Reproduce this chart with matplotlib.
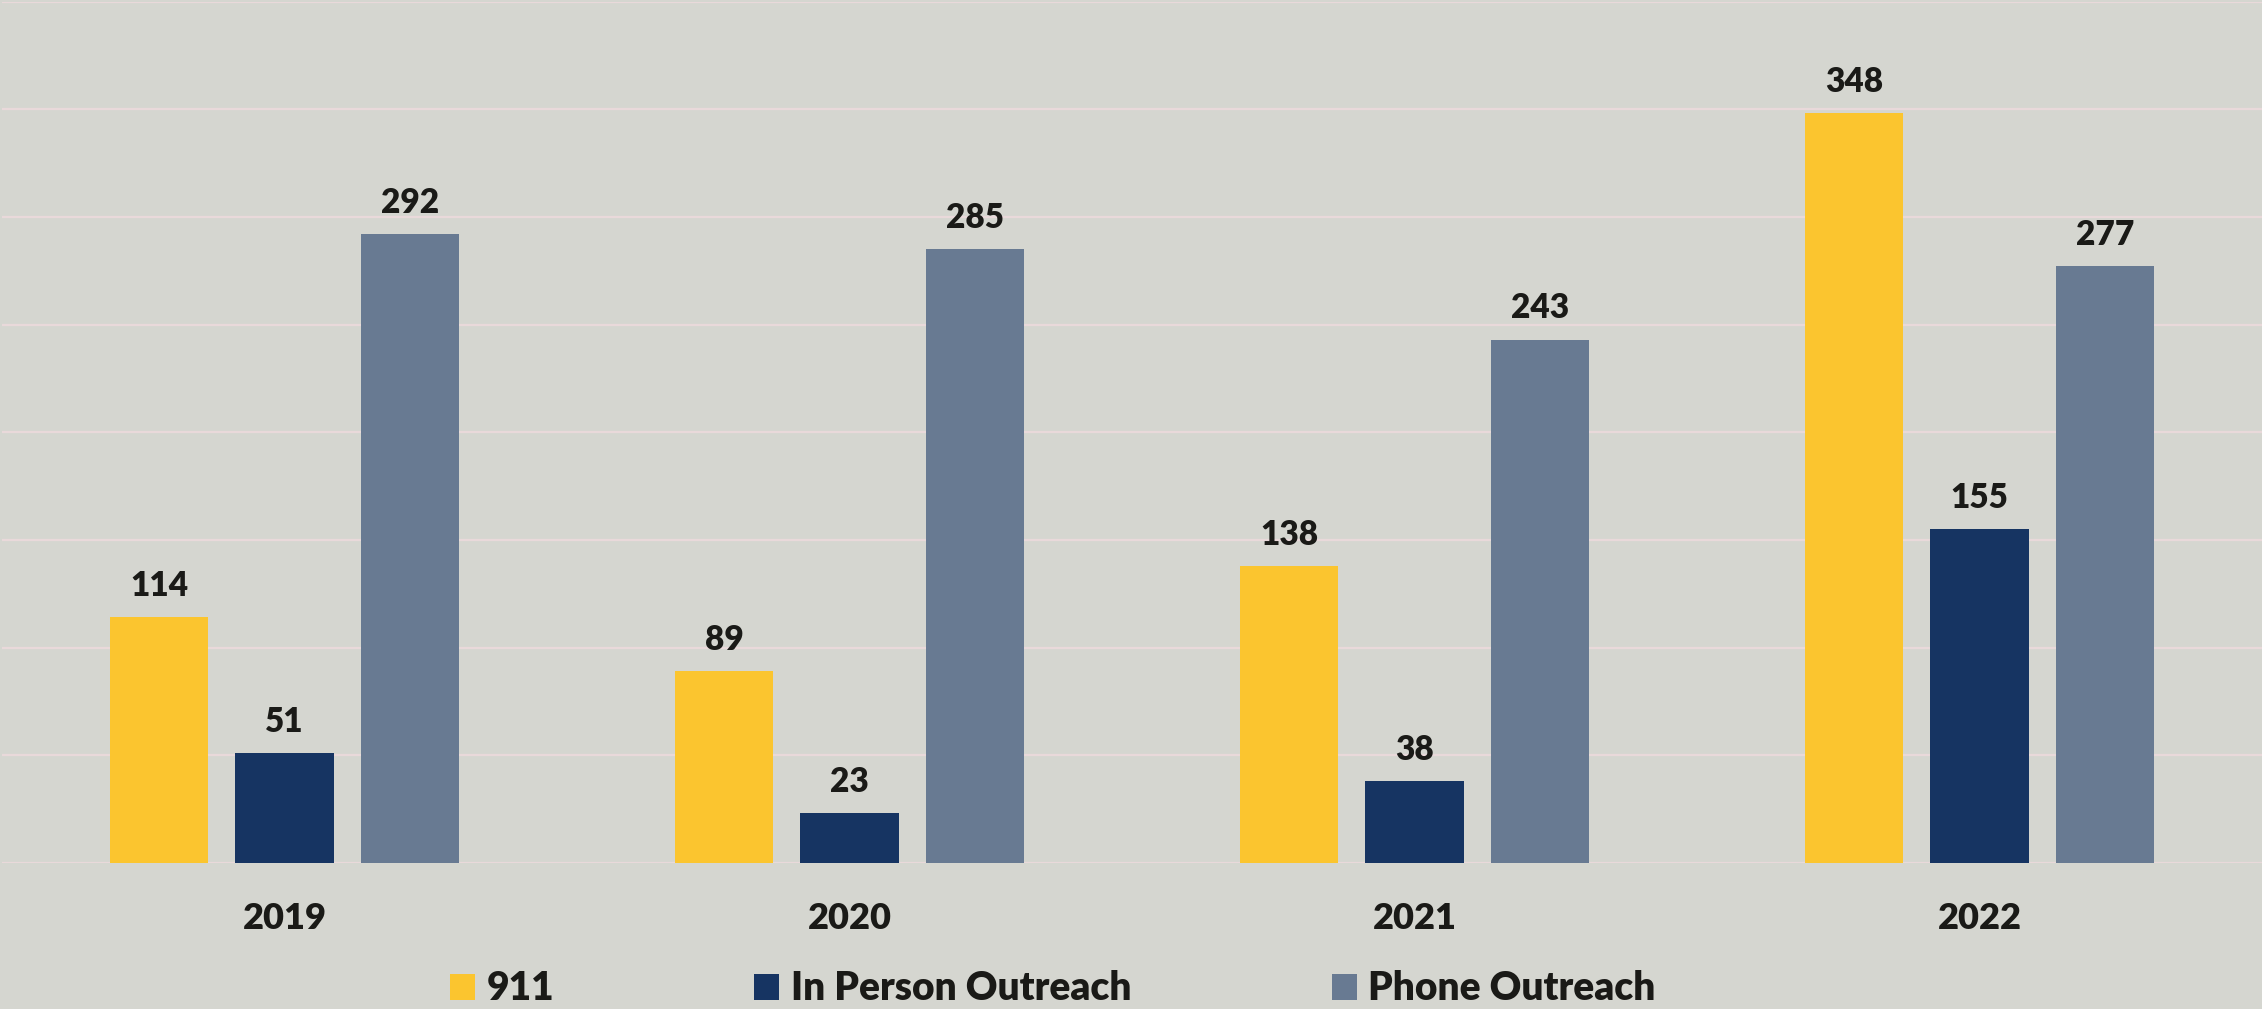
import matplotlib
matplotlib.use("Agg")
import matplotlib.pyplot as plt
import numpy as np

# ---- data ----
years = ["2019", "2020", "2021", "2022"]
series_names = ["911", "In Person Outreach", "Phone Outreach"]
calls_911 = [114, 89, 138, 348]
in_person = [51, 23, 38, 155]
phone = [292, 285, 243, 277]

colors = ["#FBC52F", "#163462", "#687A92"]
bg = "#D5D6D0"
grid_col = "#E9D9DA"
text_col = "#1A1A17"
weight = "heavy"

plt.rcParams["font.family"] = ["Lato", "DejaVu Sans"]

W, H = 2262, 1009
fig = plt.figure(figsize=(W / 100, H / 100), dpi=100, facecolor=bg)
ax_bottom = 1 - 863 / H
ax_top = 1 - 1.5 / H
ax = fig.add_axes([2 / W, ax_bottom, 1 - 2 / W, ax_top - ax_bottom])
ax.set_facecolor(bg)

x = np.arange(len(years))
width = 0.174
pitch = 0.222
all_series = [calls_911, in_person, phone]
for i, (vals, name, c) in enumerate(zip(all_series, series_names, colors)):
    bars = ax.bar(x + (i - 1) * pitch, vals, width, color=c, label=name,
                  zorder=3, linewidth=0)
    ax.bar_label(bars, labels=[str(v) for v in vals], padding=11,
                 fontsize=24, fontweight=weight, color=text_col)

ax.set_xlim(-0.5, len(years) - 0.5)
ax.set_ylim(0, 400)
ax.set_yticks(np.arange(0, 401, 50))
ax.yaxis.grid(True, color=grid_col, linewidth=1.6, zorder=0)
ax.set_axisbelow(True)
ax.tick_params(axis="y", left=False, labelleft=False)
ax.set_xticks(x)
ax.set_xticklabels(years, fontsize=26, fontweight=weight, color=text_col)
ax.tick_params(axis="x", length=0, pad=28)
for s in ax.spines.values():
    s.set_visible(False)

leg = fig.legend(loc="center left", bbox_to_anchor=(450 / W, 1 - 989 / H),
                 ncol=3, frameon=False,
                 prop={"weight": weight, "size": 28},
                 handlelength=0.64, handleheight=0.64, handletextpad=0.3,
                 columnspacing=5.15, borderpad=0, borderaxespad=0)
for t in leg.get_texts():
    t.set_color(text_col)

fig.savefig("out.png", dpi=100, facecolor=bg)
